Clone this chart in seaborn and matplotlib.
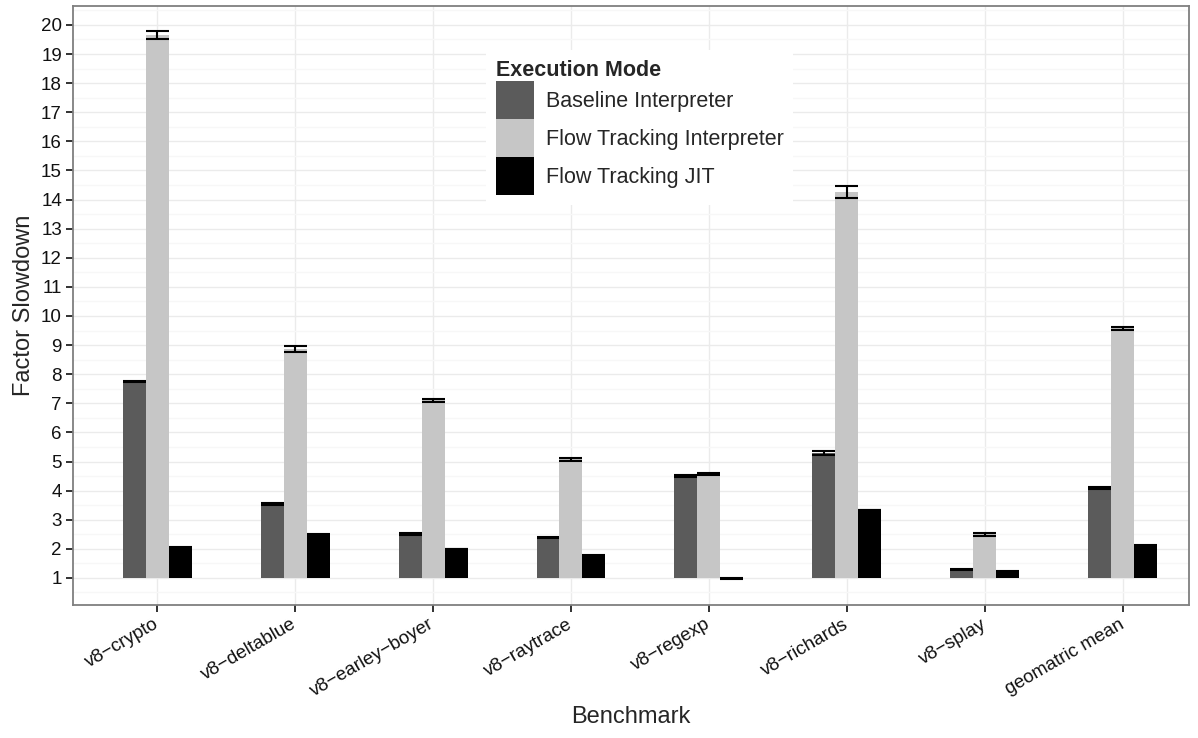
import matplotlib
matplotlib.use('Agg')
import matplotlib.pyplot as plt
import pandas as pd
import seaborn as sns
from matplotlib.ticker import MultipleLocator

# values (bars start at 1 = no slowdown)
BENCHMARKS = ['v8\u2212crypto', 'v8\u2212deltablue', 'v8\u2212earley\u2212boyer', 'v8\u2212raytrace',
              'v8\u2212regexp', 'v8\u2212richards', 'v8\u2212splay', 'geomatric mean']
MODES = ['Baseline Interpreter', 'Flow Tracking Interpreter', 'Flow Tracking JIT']

BASELINE = [7.75, 3.55, 2.52, 2.39, 4.50, 5.29, 1.29, 4.08]
BASELINE_ERR = [0.03, 0.03, 0.03, 0.03, 0.04, 0.07, 0.03, 0.03]
FLOW_INTERP = [19.65, 8.87, 7.10, 5.07, 4.56, 14.27, 2.50, 9.58]
FLOW_INTERP_ERR = [0.15, 0.11, 0.04, 0.04, 0.04, 0.20, 0.06, 0.05]
FLOW_JIT = [2.05, 2.50, 2.00, 1.77, 0.98, 3.33, 1.22, 2.12]
FLOW_JIT_ERR = [0.01, 0.01, 0.01, 0.01, 0.01, 0.01, 0.01, 0.01]

MODE_COLORS = {'Baseline Interpreter': '#5b5b5b',
               'Flow Tracking Interpreter': '#c6c6c6',
               'Flow Tracking JIT': '#000000'}

df = pd.concat([
    pd.DataFrame({'Benchmark': BENCHMARKS, 'Mode': m, 'Slowdown': v, 'Err': e})
    for m, v, e in zip(MODES, [BASELINE, FLOW_INTERP, FLOW_JIT],
                       [BASELINE_ERR, FLOW_INTERP_ERR, FLOW_JIT_ERR])
], ignore_index=True)

sns.set_theme(style='whitegrid')
plt.rcParams['font.family'] = ['Liberation Sans', 'DejaVu Sans']

fig = plt.figure(figsize=(11.98, 7.38), dpi=100)
ax = fig.add_axes([73 / 1198, 1 - 605 / 738, 1116 / 1198, 599 / 738])

sns.barplot(data=df, x='Benchmark', y='Slowdown', hue='Mode', order=BENCHMARKS,
            hue_order=MODES, palette=MODE_COLORS, width=0.5, saturation=1,
            errorbar=None, linewidth=0, ax=ax)

# bars rise from 1, error bars span the full bar width
for container, mode in zip(ax.containers, MODES):
    errs = df.loc[df['Mode'] == mode, 'Err'].to_numpy()
    for bar, err in zip(container, errs):
        top = bar.get_height()
        bar.set_y(1)
        bar.set_height(top - 1)
        xl = bar.get_x()
        xr = xl + bar.get_width()
        ax.vlines((xl + xr) / 2, top - err, top + err, color='black', linewidth=1.5, zorder=3)
        ax.hlines([top - err, top + err], xl, xr, color='black', linewidth=1.5, zorder=3)

ax.set_ylim(0.07, 20.65)
ax.set_xlim(-0.61, 7.48)
ax.yaxis.set_major_locator(MultipleLocator(1))
ax.yaxis.set_minor_locator(MultipleLocator(0.5))
ax.set_yticks(range(1, 21))
ax.set_facecolor('white')
ax.set_axisbelow(True)
ax.grid(which='major', axis='both', color='#ebebeb', linewidth=1.0)
ax.grid(which='minor', axis='y', color='#f7f7f7', linewidth=1.0)
for sp in ax.spines.values():
    sp.set_color('#7f7f7f')
    sp.set_linewidth(1.3)

ax.tick_params(axis='both', which='major', length=5, width=1.3, color='#222222',
               labelsize=13.5, labelcolor='#111111', direction='out', left=True, bottom=True)
ax.tick_params(axis='both', which='minor', length=0)
ax.tick_params(axis='y', pad=3)
ax.tick_params(axis='x', pad=8)
plt.setp(ax.get_xticklabels(), rotation=30, ha='right', va='center', rotation_mode='anchor')

ax.set_xlabel('Benchmark', fontsize=17)
ax.xaxis.set_label_coords(0.5, -0.168)
ax.set_ylabel('Factor Slowdown', fontsize=17, labelpad=4)

handles, labels = ax.get_legend_handles_labels()
ax.legend(handles, labels, title='Execution Mode', loc='upper left',
          bbox_to_anchor=(0.370, 0.926), borderaxespad=0, fontsize=15.5,
          title_fontproperties={'weight': 'bold', 'size': 15.5},
          handlelength=1.77, handleheight=2.34, labelspacing=0, handletextpad=0.55,
          borderpad=0.45, frameon=True, facecolor='white', edgecolor='none',
          framealpha=1, fancybox=False, alignment='left')

fig.savefig('out.png', dpi=100)
